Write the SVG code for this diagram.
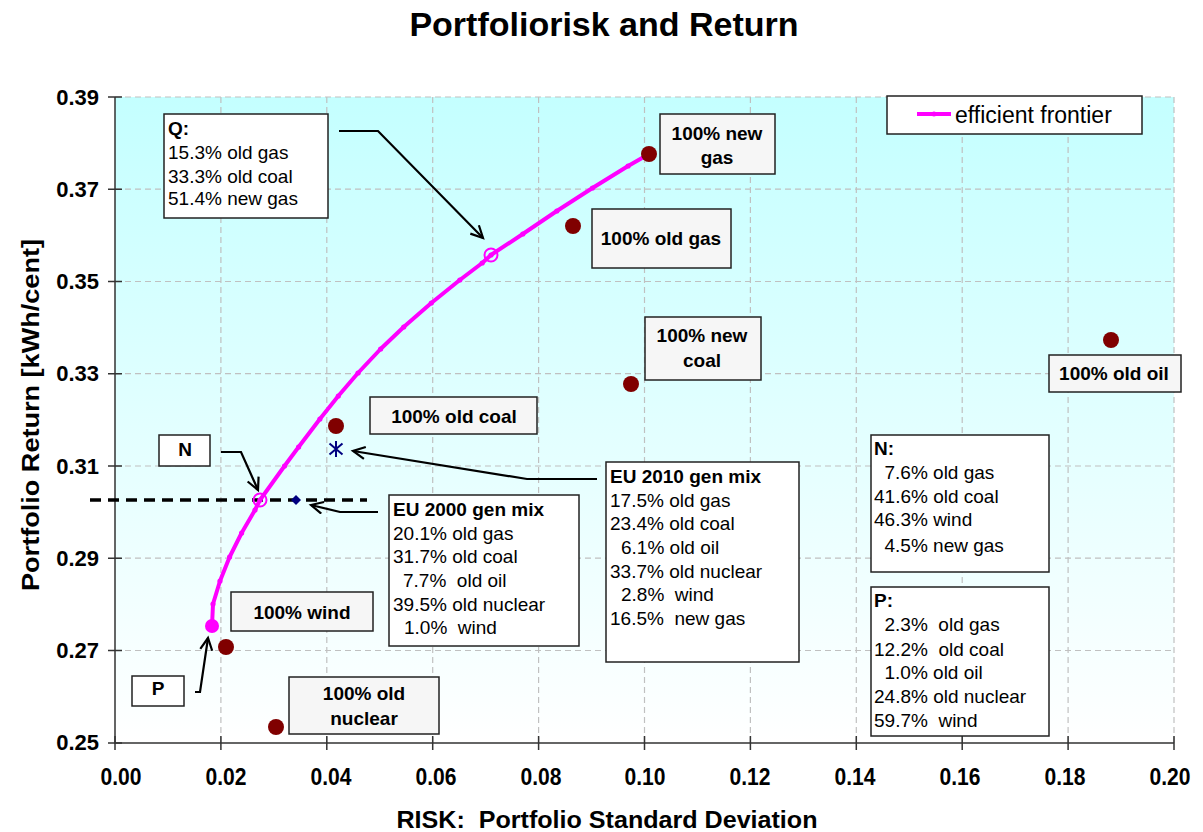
<svg xmlns="http://www.w3.org/2000/svg" width="1203" height="832" viewBox="0 0 1203 832">
<defs>
<linearGradient id="bg" x1="0" y1="0" x2="0" y2="1">
<stop offset="0" stop-color="#c4ffff"/>
<stop offset="1" stop-color="#ffffff"/>
</linearGradient>
<marker id="arr" markerUnits="userSpaceOnUse" markerWidth="16" markerHeight="16" refX="13" refY="7" orient="auto">
<path d="M1,1 L13,7 L1,13" fill="none" stroke="#000" stroke-width="2.2"/>
</marker>
<marker id="fm" markerUnits="userSpaceOnUse" markerWidth="6" markerHeight="6" refX="3" refY="3">
<circle cx="3" cy="3" r="2.6" fill="#ff00ff"/>
</marker>
</defs>
<style>
.grid{stroke:#c0c0c0;stroke-width:1.2;stroke-dasharray:6,4;fill:none}
.ax{stroke:#333;stroke-width:1.5;fill:none}
.tk{font-family:"Liberation Sans",Arial,sans-serif;font-weight:bold;font-size:22px;fill:#000}
.tx{font-family:"Liberation Sans",Arial,sans-serif;font-weight:bold;font-size:24px;fill:#000}
.lab{fill:#f6f6f6;stroke:#222;stroke-width:1.5}
.box{fill:#fff;stroke:#222;stroke-width:1.5}
.bt{font-family:"Liberation Sans",Arial,sans-serif;font-weight:bold;font-size:19px;fill:#000;text-anchor:middle}
.t{font-family:"Liberation Sans",Arial,sans-serif;font-size:19px;fill:#000;white-space:pre}
.tb{font-family:"Liberation Sans",Arial,sans-serif;font-size:19px;font-weight:bold;fill:#000}
.dot{fill:#800000}
.con{fill:none;stroke:#000;stroke-width:2.2;marker-end:url(#arr)}
</style>
<text x="604" y="36" text-anchor="middle" font-family="Liberation Sans, Arial, sans-serif" font-weight="bold" font-size="34">Portfoliorisk and Return</text>
<g id="plot">
<rect x="115" y="97" width="1059" height="646" fill="url(#bg)"/>
<path class="grid" d="M115,97H1174M115,189.2H1174M115,281.5H1174M115,373.7H1174M115,466H1174M115,558.2H1174M115,650.5H1174M220.9,97V743M326.8,97V743M432.7,97V743M538.6,97V743M644.5,97V743M750.4,97V743M856.3,97V743M962.2,97V743M1068.1,97V743M1174,97V743"/>
<path class="ax" d="M115,97V743H1174"/>
<path class="ax" d="M108,97H122M108,189.2H122M108,281.5H122M108,373.7H122M108,466H122M108,558.2H122M108,650.5H122M108,743H122M115,736V750M220.9,736V750M326.8,736V750M432.7,736V750M538.6,736V750M644.5,736V750M750.4,736V750M856.3,736V750M962.2,736V750M1068.1,736V750M1174,736V750"/>
<g class="tk" text-anchor="end">
<text x="99" y="105">0.39</text><text x="99" y="197">0.37</text><text x="99" y="289">0.35</text><text x="99" y="381">0.33</text><text x="99" y="474">0.31</text><text x="99" y="566">0.29</text><text x="99" y="658">0.27</text><text x="99" y="750">0.25</text>
</g>
<g class="tx" text-anchor="middle">
<text x="121" y="785" textLength="41" lengthAdjust="spacingAndGlyphs">0.00</text><text x="226" y="785" textLength="41" lengthAdjust="spacingAndGlyphs">0.02</text><text x="331" y="785" textLength="41" lengthAdjust="spacingAndGlyphs">0.04</text><text x="436" y="785" textLength="41" lengthAdjust="spacingAndGlyphs">0.06</text><text x="541" y="785" textLength="41" lengthAdjust="spacingAndGlyphs">0.08</text><text x="645" y="785" textLength="41" lengthAdjust="spacingAndGlyphs">0.10</text><text x="750" y="785" textLength="41" lengthAdjust="spacingAndGlyphs">0.12</text><text x="855" y="785" textLength="41" lengthAdjust="spacingAndGlyphs">0.14</text><text x="960" y="785" textLength="41" lengthAdjust="spacingAndGlyphs">0.16</text><text x="1065" y="785" textLength="41" lengthAdjust="spacingAndGlyphs">0.18</text><text x="1170" y="785" textLength="41" lengthAdjust="spacingAndGlyphs">0.20</text>
</g>
<text x="607" y="828" text-anchor="middle" style="white-space:pre" font-family="Liberation Sans, Arial, sans-serif" font-weight="bold" font-size="24" textLength="421" lengthAdjust="spacingAndGlyphs">RISK:  Portfolio Standard Deviation</text>
<text transform="translate(39,415) rotate(-90)" text-anchor="middle" font-family="Liberation Sans, Arial, sans-serif" font-weight="bold" font-size="24" textLength="352" lengthAdjust="spacingAndGlyphs">Portfolio Return [kWh/cent]</text>
</g>
<g id="frontier">
<line x1="90" y1="500" x2="367" y2="500" stroke="#000" stroke-width="3.5" stroke-dasharray="11,7"/>
<polyline fill="none" stroke="#ff00ff" stroke-width="4" stroke-linejoin="round" marker-mid="url(#fm)" points="212,626 213,604 220,581 229.6,557 241.6,533 255,510 260,500 284.5,466 298.6,447 319.9,419 338.3,396 358,373 380.6,349 403.7,327 431.3,303 459.8,280 482.2,263 491,255 522.8,234 556.8,211 592.5,188 628.1,166 649,154"/>
<circle cx="212" cy="626" r="7" fill="#ff00ff"/>
<circle cx="260" cy="500" r="6.5" fill="none" stroke="#ff00ff" stroke-width="2"/>
<circle cx="491" cy="255" r="6.5" fill="none" stroke="#ff00ff" stroke-width="2"/>
</g>
<g id="points">
<circle class="dot" cx="649" cy="154" r="8"/>
<circle class="dot" cx="573" cy="226" r="8"/>
<circle class="dot" cx="631" cy="384" r="8"/>
<circle class="dot" cx="1111" cy="340" r="8"/>
<circle class="dot" cx="336" cy="426" r="8"/>
<circle class="dot" cx="226" cy="647" r="8"/>
<circle class="dot" cx="276" cy="727" r="8"/>
<path d="M296,495 L301,500 L296,505 L291,500Z" fill="#000080"/>
<path d="M336,441V457M329.5,443.5L342.5,454.5M329.5,454.5L342.5,443.5" stroke="#000080" stroke-width="2" fill="none"/>
</g>
<g id="legend">
<rect class="box" x="887" y="96" width="255" height="38"/>
<line x1="917" y1="114" x2="951" y2="114" stroke="#ff00ff" stroke-width="4"/>
<circle cx="934" cy="114" r="2.5" fill="#ff00ff"/>
<text x="955" y="123" font-family="Liberation Sans, Arial, sans-serif" font-size="23">efficient frontier</text>
</g>
<g id="lbl-newgas"><rect class="lab" x="660" y="114" width="115" height="60"/><text class="bt" x="717" y="140">100% new</text><text class="bt" x="717" y="164">gas</text></g>
<g id="lbl-oldgas"><rect class="lab" x="592" y="209" width="139" height="59"/><text class="bt" x="661" y="245">100% old gas</text></g>
<g id="lbl-newcoal"><rect class="lab" x="645" y="317" width="116" height="63"/><text class="bt" x="702" y="342">100% new</text><text class="bt" x="702" y="367">coal</text></g>
<g id="lbl-oldoil"><rect class="lab" x="1049" y="355" width="132" height="37"/><text class="bt" x="1114" y="380">100% old oil</text></g>
<g id="lbl-oldcoal"><rect class="lab" x="370" y="397" width="167" height="37"/><text class="bt" x="454" y="423">100% old coal</text></g>
<g id="lbl-wind"><rect class="lab" x="231" y="592" width="142" height="39"/><text class="bt" x="302" y="619">100% wind</text></g>
<g id="lbl-oldnuclear"><rect class="lab" x="289" y="677" width="150" height="57"/><text class="bt" x="364" y="700">100% old</text><text class="bt" x="364" y="725">nuclear</text></g>
<g id="lbl-N"><rect class="box" x="159" y="435" width="51" height="31"/><text class="bt" x="185" y="456">N</text></g>
<g id="lbl-P"><rect class="box" x="132" y="676" width="52" height="30"/><text class="bt" x="158" y="695">P</text></g>
<g id="box-Q"><rect class="box" x="164" y="114" width="164" height="104"/>
<text class="tb" x="168" y="135">Q:</text>
<text class="t" x="168" y="159">15.3% old gas</text>
<text class="t" x="168" y="183">33.3% old coal</text>
<text class="t" x="168" y="205">51.4% new gas</text></g>
<g id="box-eu2000"><rect class="box" x="389" y="495" width="190" height="151"/>
<text class="tb" x="393" y="516">EU 2000 gen mix</text>
<text class="t" x="393" y="540">20.1% old gas</text>
<text class="t" x="393" y="563">31.7% old coal</text>
<text class="t" x="403" y="587">7.7%  old oil</text>
<text class="t" x="393" y="611">39.5% old nuclear</text>
<text class="t" x="404" y="634">1.0%  wind</text></g>
<g id="box-eu2010"><rect class="box" x="606" y="462" width="193" height="200"/>
<text class="tb" x="610" y="483">EU 2010 gen mix</text>
<text class="t" x="610" y="507">17.5% old gas</text>
<text class="t" x="610" y="530">23.4% old coal</text>
<text class="t" x="621" y="554">6.1% old oil</text>
<text class="t" x="610" y="578">33.7% old nuclear</text>
<text class="t" x="621" y="601">2.8%  wind</text>
<text class="t" x="610" y="625">16.5%  new gas</text></g>
<g id="box-N"><rect class="box" x="871" y="435" width="178" height="137"/>
<text class="tb" x="874" y="455">N:</text>
<text class="t" x="884.5" y="479">7.6% old gas</text>
<text class="t" x="874" y="503">41.6% old coal</text>
<text class="t" x="874" y="526">46.3% wind</text>
<text class="t" x="884.5" y="552">4.5% new gas</text></g>
<g id="box-P"><rect class="box" x="871" y="587" width="178" height="149"/>
<text class="tb" x="874" y="607">P:</text>
<text class="t" x="884.5" y="631">2.3%  old gas</text>
<text class="t" x="874" y="656">12.2%  old coal</text>
<text class="t" x="884.5" y="679">1.0% old oil</text>
<text class="t" x="874" y="703">24.8% old nuclear</text>
<text class="t" x="874" y="727">59.7%  wind</text></g>
<g id="connectors">
<polyline class="con" points="339,131 378,131 483,238"/>
<polyline class="con" points="221,452 241,452 258,490"/>
<polyline class="con" points="195,692 200,692 208,638"/>
<polyline class="con" points="378,512 340,512 311,505"/>
<polyline class="con" points="597,479 527,479 353,451"/>
</g>
</svg>
